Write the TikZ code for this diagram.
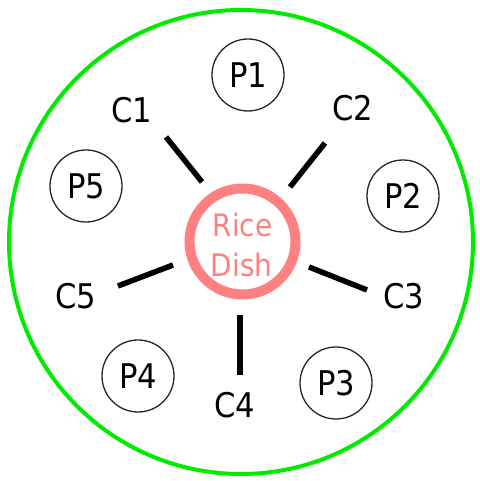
\documentclass[tikz,border=0pt]{standalone}
\usepackage{fontspec}
\setmainfont{DejaVu Sans Condensed}
\definecolor{plategreen}{RGB}{0,235,0}
\definecolor{dishred}{RGB}{255,128,128}
\begin{document}
\begin{tikzpicture}[x=1pt,y=1pt,
  plate/.style={circle,draw=plategreen,line width=4pt,minimum size=464pt,inner sep=0pt},
  dish/.style={circle,draw=dishred,line width=10pt,minimum size=106pt,inner sep=0pt},
  dishtext/.style={text=dishred,inner sep=0pt,anchor=base,font=\fontsize{31}{37}\selectfont},
  person/.style={circle,draw=black!85,line width=1.3pt,minimum size=72pt,inner sep=0pt,font=\fontsize{34}{40}\selectfont},
  clabel/.style={inner sep=0pt,font=\fontsize{34}{40}\selectfont},
  spoke/.style={line width=5.5pt}]
\useasboundingbox (0,0) rectangle (479,481);
\node[plate] (plate) at (241,239) {};
\node[dish] (dish) at (242.5,239.5) {};
\node[dishtext] (rice) at (242.5,244) {Rice};
\node[dishtext] (dishword) at (241.5,204) {Dish};
\node[person] (p1) at (248,406) {P1};
\node[person] (p2) at (403,285) {P2};
\node[person] (p3) at (336,98) {P3};
\node[person] (p4) at (138,105) {P4};
\node[person] (p5) at (86,295) {P5};
\node[clabel] (c1) at (132,371) {C1};
\node[clabel] (c2) at (353,373) {C2};
\node[clabel] (c3) at (404,185) {C3};
\node[clabel] (c4) at (235,76) {C4};
\node[clabel] (c5) at (76,185) {C5};
\coordinate (s1a) at (202,299); \coordinate (s1b) at (166,344);
\coordinate (s2a) at (290,294); \coordinate (s2b) at (325,338);
\coordinate (s3a) at (309,214); \coordinate (s3b) at (367,191);
\coordinate (s4a) at (240,166); \coordinate (s4b) at (240,106);
\coordinate (s5a) at (173,216); \coordinate (s5b) at (118,195);
\draw[spoke] (s1a) -- (s1b);
\draw[spoke] (s2a) -- (s2b);
\draw[spoke] (s3a) -- (s3b);
\draw[spoke] (s4a) -- (s4b);
\draw[spoke] (s5a) -- (s5b);
\end{tikzpicture}
\end{document}
